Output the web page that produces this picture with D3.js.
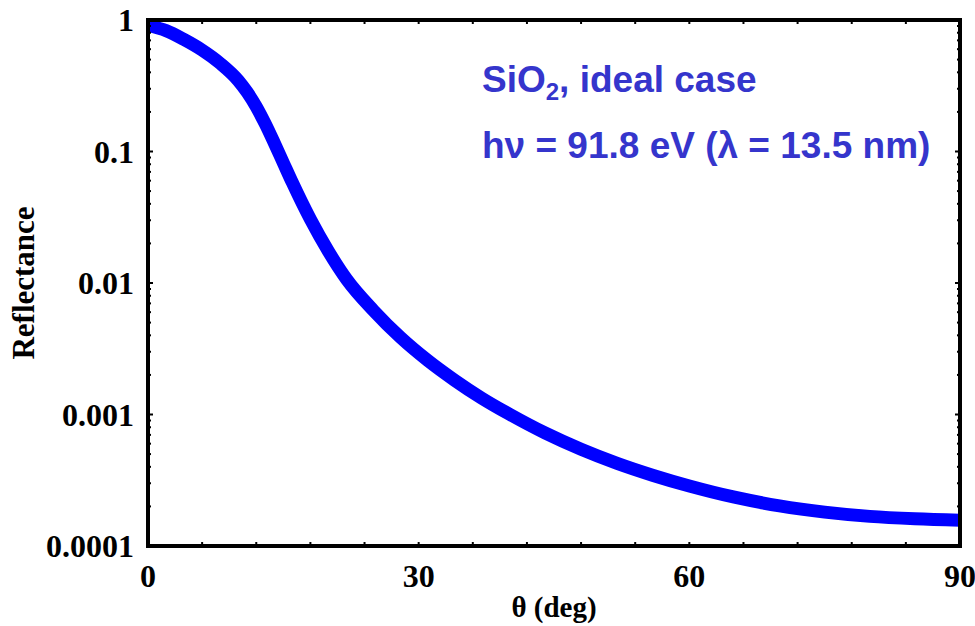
<!DOCTYPE html>
<html>
<head>
<meta charset="utf-8">
<script src="https://cdn.jsdelivr.net/npm/d3@7"></script>
<style>
body{margin:0;background:#fff;}
</style>
</head>
<body>
<script>
// angle (deg) and reflectance
const theta = [0, 2, 4, 6, 8, 10, 11, 12, 13, 14, 15, 16, 18, 20, 22, 25, 28, 31, 34, 37, 40, 44, 48, 52, 56, 60, 65, 70, 75, 80, 85, 90];
const refl  = [0.91, 0.83, 0.71, 0.59, 0.468, 0.347, 0.282, 0.219, 0.162, 0.116, 0.082, 0.058, 0.0305, 0.0174, 0.0107, 0.00617, 0.00385, 0.00258, 0.00182, 0.00133, 0.00101, 0.000724, 0.000544, 0.000425, 0.000344, 0.000286, 0.000235, 0.000202, 0.000181, 0.000168, 0.000161, 0.000157];

const xTicks = [0, 30, 60, 90];
const yTicks = [1, 0.1, 0.01, 0.001, 0.0001];
const yTickLabels = ['1', '0.1', '0.01', '0.001', '0.0001'];

const svg = d3.select('body').append('svg')
              .attr('width', 975)
              .attr('height', 626);

const x = d3.scaleLinear().domain([0, 90]).range([148, 960]);
const y = d3.scaleLog().domain([0.0001, 1]).range([546, 20]);

svg.append('clipPath').attr('id', 'plot')
   .append('rect').attr('x', 148).attr('y', 20).attr('width', 812).attr('height', 526);

// curve
const pts = theta.map((t, i) => [t, refl[i]]);
const line = d3.line().x(d => x(d[0])).y(d => y(d[1])).curve(d3.curveMonotoneX);
svg.append('path').datum(pts)
   .attr('d', line)
   .attr('clip-path', 'url(#plot)')
   .style('fill', 'none').style('stroke', '#0000ff').style('stroke-width', 13);

// minor ticks
const xMinor = d3.range(0, 91, 6);
const yMinor = [];
for (let e = -4; e < 0; e++) for (let k = 1; k < 10; k++) yMinor.push(k * Math.pow(10, e));
yMinor.push(1);

const tickG = svg.append('g').style('stroke', '#000').style('stroke-width', 2);
xMinor.forEach(v => {
  tickG.append('line').attr('x1', x(v)).attr('x2', x(v)).attr('y1', 546).attr('y2', 542);
  tickG.append('line').attr('x1', x(v)).attr('x2', x(v)).attr('y1', 20).attr('y2', 24);
});
yMinor.forEach(v => {
  const len = yTicks.includes(v) ? 5 : 3;
  tickG.append('line').attr('y1', y(v)).attr('y2', y(v)).attr('x1', 148).attr('x2', 148 + len);
  tickG.append('line').attr('y1', y(v)).attr('y2', y(v)).attr('x1', 960).attr('x2', 960 - len);
});

// frame
svg.append('rect').attr('x', 148).attr('y', 20).attr('width', 812).attr('height', 526)
   .style('fill', 'none').style('stroke', '#000').style('stroke-width', 4);

// tick labels
const lab = svg.append('g').style('font-family', '"Liberation Serif", "Times New Roman", serif')
               .style('font-weight', 'bold').style('font-size', '32px').style('fill', '#000');
xTicks.forEach(v => {
  lab.append('text').attr('x', x(v)).attr('y', 587).attr('text-anchor', 'middle').text(v);
});
yTicks.forEach((v, i) => {
  lab.append('text').attr('x', 134).attr('y', y(v) + 11).attr('text-anchor', 'end').text(yTickLabels[i]);
});

lab.append('text').attr('x', 554).attr('y', 617).attr('text-anchor', 'middle').style('font-size', '29px').text('θ (deg)');
lab.append('text').attr('transform', 'translate(34,283) rotate(-90)').attr('text-anchor', 'middle').style('font-size', '31px').text('Reflectance');

// annotation
const note = svg.append('g').style('font-family', '"Liberation Sans", Arial, sans-serif')
                .style('font-weight', 'bold').style('font-size', '37px').style('fill', '#3535cc');
const t1 = note.append('text').attr('x', 482).attr('y', 92);
t1.append('tspan').text('SiO');
t1.append('tspan').attr('dy', 8).style('font-size', '24px').text('2');
t1.append('tspan').attr('dy', -8).text(', ideal case');
note.append('text').attr('x', 482).attr('y', 158).text('hν = 91.8 eV (λ = 13.5 nm)');
</script>
</body>
</html>
